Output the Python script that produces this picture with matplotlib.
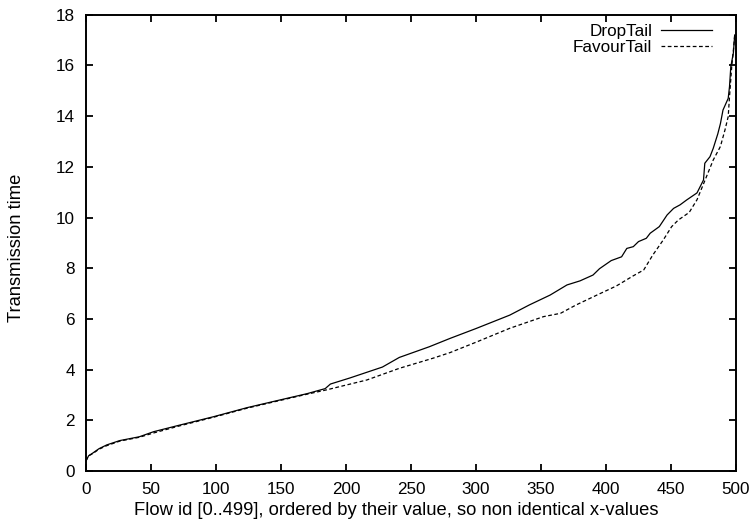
import matplotlib
matplotlib.use("Agg")
import matplotlib.pyplot as plt

# values (flow index, transmission time)
drop_x = [0, 2, 5, 10, 16, 26, 41, 52, 72, 98, 124, 149, 170, 184, 188, 203,
          228, 241, 264, 280, 300, 326, 341, 357, 370, 380, 390, 395, 404, 412,
          416, 421, 425, 431, 434, 441, 447, 452, 457, 462, 470, 475, 476, 480,
          482.5, 486, 488, 490, 494, 495, 496, 498, 499]
drop_y = [0.4, 0.6, 0.7, 0.88, 1.03, 1.2, 1.35, 1.55, 1.81, 2.14, 2.5, 2.8, 3.05,
          3.25, 3.43, 3.67, 4.1, 4.48, 4.9, 5.23, 5.62, 6.15, 6.55, 6.94, 7.34,
          7.5, 7.73, 7.98, 8.3, 8.45, 8.78, 8.85, 9.05, 9.18, 9.38, 9.64, 10.1,
          10.36, 10.5, 10.69, 10.97, 11.48, 12.14, 12.4, 12.73, 13.3, 13.7,
          14.24, 14.7, 15.16, 15.95, 16.5, 17.2]

favour_x = [0, 2, 5, 10, 16, 26, 41, 52, 72, 98, 124, 149, 170, 185, 216, 241,
            267, 280, 300, 326, 352, 365, 377, 393, 408, 421, 429, 436, 444,
            450.5, 455.6, 464, 470, 476, 482.5, 488, 491.5, 494, 495, 496.7, 498,
            499]
favour_y = [0.4, 0.6, 0.68, 0.86, 1.0, 1.18, 1.33, 1.5, 1.78, 2.12, 2.48, 2.78,
            3.03, 3.2, 3.59, 4.05, 4.45, 4.67, 5.08, 5.63, 6.09, 6.22, 6.55, 6.94,
            7.3, 7.7, 7.93, 8.52, 9.11, 9.64, 9.9, 10.2, 10.7, 11.45, 12.27, 12.8,
            13.45, 13.98, 14.76, 15.95, 16.6, 17.2]

xticks = [0, 50, 100, 150, 200, 250, 300, 350, 400, 450, 500]
yticks = [0, 2, 4, 6, 8, 10, 12, 14, 16, 18]

plt.rcParams["font.family"] = ["Liberation Sans", "DejaVu Sans"]
plt.rcParams["font.size"] = 12.3

W, H = 754, 532
fig = plt.figure(figsize=(W / 100, H / 100), dpi=100)
ax = fig.add_axes([86 / W, 1 - 471 / H, 650 / W, 456.3 / H])

ax.plot(drop_x, drop_y, "-", color="black", lw=0.9, label="DropTail")
ax.plot(favour_x, favour_y, color="black", lw=0.9, linestyle=(0, (3, 2)),
        label="FavourTail")

ax.set_xlim(0, 500)
ax.set_ylim(0, 18)
ax.set_xticks(xticks)
ax.set_yticks(yticks)
ax.tick_params(direction="in", length=5, width=1.3, top=True, right=True, pad=8)
for s in ax.spines.values():
    s.set_linewidth(1.4)

ax.set_xlabel("Flow id [0..499], ordered by their value, so non identical x-values",
              fontsize=13.2)
ax.xaxis.set_label_coords(0.477, -0.068)
ax.set_ylabel("Transmission time", fontsize=13.2)
ax.yaxis.set_label_coords(-0.094, 0.49)

ax.legend(loc="upper right", bbox_to_anchor=((712 - 86) / 650, 0.98),
          frameon=False, markerfirst=False, handlelength=3.0, handletextpad=0.5,
          labelspacing=0.05, borderpad=0, borderaxespad=0)

fig.savefig("out.png", dpi=100)
